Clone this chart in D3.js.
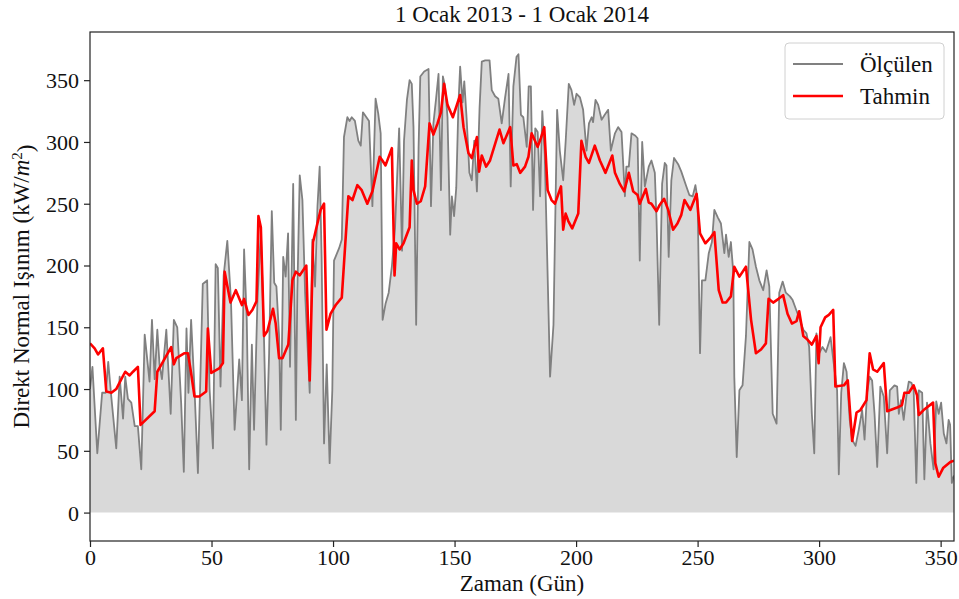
<html>
<script src="https://d3js.org/d3.v7.min.js"></script>
<style>
  body { margin: 0; background: #fff; }
  text { font-family: "Liberation Serif", "Times New Roman", serif; fill: #111; }
</style>
<body>
<svg id="plot" width="959" height="599"></svg>
<script>
// olculen (measured) and tahmin (predicted) : [gun, deger]
var olculen = [
  [0,100],[1,118],[3,48],[5,97],[6.5,97],[7.5,122],[8.7,95],[10.8,52],[12.2,110],[13.6,76],[14.5,110],[15.6,92],[17,89],[18.4,70],[19.7,70],[21.1,35],[22.5,144],[24.5,106],[25.5,156],[26.6,108],[27.7,148],[28.6,120],[29.6,108],[31.4,148],[33.2,80],[34.5,156],[35.9,150],[37.5,89],[38.6,33],[39.7,149],[40.5,97],[41.6,156],[43,100],[44.4,32],[46.4,185],[48.2,188],[49.2,100],[50.6,52],[51.7,201],[52.6,198],[53.7,102],[55,192],[56.5,220],[58,172],[59.5,67],
  [61.4,124],[62.5,91],[63.4,213],[64.5,156],[65.5,35],[66.6,136],[67.5,67],[68.9,172],[70.3,229],[71.6,140],[72.6,55],[73.7,129],[74.8,244],[75.8,186],[76.7,183],[77.8,143],[78.5,67],[79.5,207],[80.5,191],[81.5,226],[82.3,118],[83.6,266],[84.7,75],[85.3,178],[86.3,273],[87.4,253],[88.5,178],[90.4,97],[91.5,221],[92.6,183],[93.6,248],[94.5,280],[95.3,207],[96.3,56],[97.4,120],[98.6,40],[99.7,99],[100.4,204],[102.5,214],[103.6,221],[104.5,304],[105.9,320],[106.8,317],[107.7,320],[109,317],[110.4,301],[111.4,297],[112.3,324],[114.8,317],[116.2,248],[117.5,335],[118.6,323],[119.6,307],[120.4,156],
  [121.6,169],[122.9,178],[124.2,199],[125.5,230],[127.2,311],[128.4,212],[129.2,301],[130.4,334],[131.5,350],[132.4,347],[133.1,312],[134.2,152],[135.2,296],[135.9,353],[137.5,357],[139.3,359],[140.3,248],[141.3,315],[142.4,335],[143.4,355],[144.4,261],[145.2,353],[146.1,345],[147.1,320],[148.2,225],[148.9,256],[149.8,240],[150.7,263],[151.6,331],[152.3,361],[153.3,332],[154,349],[155,318],[156.1,275],[157.1,269],[158.1,301],[159.2,260],[160.3,328],[161.2,365],[162.6,366],[164.4,366],[165.3,342],[166.7,337],[168,335],[169.4,315],[170.8,336],[172.2,355],[173.1,264],[174.2,345],[175.5,369],[176.3,371],[177.3,322],[178.3,320],[179.7,296],[180.5,345],[181.4,345],
  [182.3,245],[183.2,311],[184.2,308],[185.2,256],[186.1,325],[187.1,290],[189.3,110],[190.7,152],[192.2,326],[193.3,293],[194.7,269],[195.7,300],[197,347],[198.1,342],[199.2,330],[200.2,339],[201.6,336],[202.9,326],[204.3,293],[205.3,315],[206.4,320],[207,316],[208,334],[209.1,330],[210.5,318],[211.8,322],[213.2,326],[214.3,293],[216,307],[217.3,312],[218.7,308],[220.1,256],[220.7,280],[221.7,280],[222.8,307],[224.4,305],[225.3,303],[226.2,204],[227.2,300],[228.3,264],[229.9,280],[231,285],[232.4,275],[233.1,237],[234.2,152],[235.4,266],[236.5,283],[237.2,281],[238.1,207],[239.2,269],[240.3,287],[242,282],
  [243.3,276],[245.2,265],[246.6,257],[248,256],[249.1,265],[250,253],[251,129],[251.8,188],[253.2,188],[254.6,210],[255.9,219],[256.9,245],[258.3,239],[259.6,234],[261,210],[261.7,225],[262.8,207],[263.7,219],[264.7,194],[265.1,110],[266.1,45],[267.2,99],[268.5,103],[269.9,143],[271.3,219],[272.6,213],[274,199],[275.4,188],[277,180],[278.4,196],[279.5,183],[280.9,80],[282.5,72],[283.6,178],[285,187],[286.3,178],[288,175],[289.1,172],[290.4,165],[292.1,156],[293.5,148],[294.8,145],[295.9,134],[297,80],[298,48],[298.9,145],[300,129],[301.4,134],[302.8,130],
  [304.7,142],[306,121],[307.4,99],[308.1,31],[309.1,97],[310.2,121],[311.3,114],[312.6,75],[313.6,59],[315,54],[316.3,67],[317.7,83],[318.7,59],[319.7,97],[320.8,110],[321.8,107],[322.8,80],[323.9,37],[325.2,102],[326.6,94],[328,48],[329.1,99],[331,103],[332.1,102],[332.8,80],[333.7,91],[334.8,75],[335.9,94],[336.9,106],[338,105],[338.9,99],[340,24],[341,99],[342.4,97],[343.3,27],[344.4,89],[345.8,56],[347.1,35],[348.2,90],[349.2,80],[350.2,89],[351.3,64],[352.4,56],[353.3,75],[353.9,71],[354.6,24],[355.5,30]
];

var tahmin = [
  [0,137],[1.9,133],[3.3,128],[5.3,133],[6.7,98],[8.8,97],[10.8,100],[12.9,108],[14.5,114],[16.3,111],[17.7,114],[19.7,118],[20.8,71],[26.6,82],[27.7,114],[30,122],[33.4,134],[34.5,120],[35.5,125],[38.9,129],[40.3,129],[41.6,113],[43,94],[45,94],[47.8,98],[48.5,149],[49.9,113],[53.3,117],[54.7,121],[55.4,195],[57.8,170],[60,180],
  [62.5,168],[63.4,173],[65.2,160],[66.8,164],[68.5,171],[69.3,240],[70.3,231],[71.6,143],[73,147],[75.3,165],[76.4,153],[77.8,125],[79.2,125],[81.6,136],[83.3,188],[84.7,195],[86.3,192],[89,200],[90.4,107],[91.8,219],[93.2,231],[94.9,245],[96.3,250],[97.3,148],[99,161],[101.1,168],[103.6,174],[106.3,256],[108,253],[110,265],[111.8,261],[114.1,250],[116.2,260],[117.5,272],[119.2,288],[120.3,285],
  [121.6,281],[124.2,295],[125.3,192],[126,218],[127.4,213],[129,218],[131.5,231],[132.4,285],[133.1,261],[134.5,250],[136.1,252],[137.9,264],[139.7,315],[141.3,306],[143,315],[144.4,324],[145.7,347],[147.1,330],[149.3,320],[152.3,338],[153.7,312],[155.7,291],[157.1,287],[159.2,304],[160.1,276],[161.2,289],[163,280],[164.6,285],[167.1,301],[168.5,310],[170.1,299],[172.9,312],[174.2,281],[175.6,282],[177,275],[179,280],[180.4,288],[181.7,307],
  [184.2,296],[185.5,303],[186.9,312],[188.3,261],[189.9,253],[191.3,250],[193.8,264],[194.7,229],[195.7,242],[196.8,236],[198.4,230],[200.9,242],[202.2,301],[203.9,288],[205.3,283],[207.7,297],[209.8,285],[212.1,275],[214.9,289],[216,275],[218,266],[219.8,260],[221.7,275],[223.5,260],[225.3,257],[226.2,250],[228.7,262],[229.9,251],[231,250],[233.1,244],[234.4,249],[236.2,254],[237.9,245],[239.9,229],[241.7,234],[243.3,241],
  [244.6,253],[247,245],[249.6,258],[251,226],[253.2,218],[255.5,223],[256.9,227],[258.7,180],[260.3,170],[261.7,170],[263.7,175],[265.1,199],[267.2,191],[269.9,199],[272,156],[274,129],[276.1,132],[278.1,137],[279.2,173],[281.1,170],[283.3,173],[285.2,176],[287,161],[288.8,153],[290.7,155],[291.8,163],[293.5,143],[295.2,140],[297,136],[298.9,143],[299.8,121],[300.6,150],[302.5,158],[304,160],[305.8,164],[306.7,102],
  [310.2,103],[311.8,107],[313.6,58],[315.4,81],[317,83],[319.5,91],[320.8,129],[322.2,116],[323.9,114],[326.6,121],[328,82],[332.1,85],[334.1,87],[335.1,97],[336.9,97],[338.9,103],[340.3,95],[341,79],[343,83],[346.9,89],[347.8,40],[349.2,29],[351,36],[354,41],[355.5,42]
];

var xTicks = [0, 50, 100, 150, 200, 250, 300, 350];
var yTicks = [0, 50, 100, 150, 200, 250, 300, 350];
var seriesNames = ["Ölçülen", "Tahmin"];
var seriesColors = ["#808080", "#ff0000"];

var svg = d3.select("#plot");
var pL = 90, pR = 954, pT = 32, pB = 541;

var x = d3.scaleLinear().domain([0, 355.5]).range([pL, pR]);
var y = d3.scaleLinear().domain([-23, 389]).range([pB, pT]);

svg.append("clipPath").attr("id", "clip")
  .append("rect").attr("x", pL).attr("y", pT).attr("width", pR - pL).attr("height", pB - pT);

var g = svg.append("g").attr("clip-path", "url(#clip)");

g.append("path").datum(olculen)
  .attr("fill", "#d9d9d9")
  .attr("d", d3.area().x(function(d){ return x(d[0]); }).y0(y(0)).y1(function(d){ return y(d[1]); }));

g.append("path").datum(olculen)
  .attr("fill", "none").attr("stroke", seriesColors[0]).attr("stroke-width", 1.8).attr("stroke-linejoin", "round")
  .attr("d", d3.line().x(function(d){ return x(d[0]); }).y(function(d){ return y(d[1]); }));

g.append("path").datum(tahmin)
  .attr("fill", "none").attr("stroke", seriesColors[1]).attr("stroke-width", 2.6).attr("stroke-linejoin", "round")
  .attr("d", d3.line().x(function(d){ return x(d[0]); }).y(function(d){ return y(d[1]); }));

// axes
var xAxis = svg.append("g").attr("transform", "translate(0," + pB + ")")
  .call(d3.axisBottom(x).tickValues(xTicks).tickSize(6).tickPadding(2).tickSizeOuter(0));
var yAxis = svg.append("g").attr("transform", "translate(" + pL + ",0)")
  .call(d3.axisLeft(y).tickValues(yTicks).tickSize(6).tickPadding(5).tickSizeOuter(0));
[xAxis, yAxis].forEach(function(a){
  a.select(".domain").remove();
  a.selectAll("line").attr("stroke", "#222").attr("stroke-width", 1.2);
  a.selectAll("text").style("font-family", "Liberation Serif").style("font-size", "22px").attr("fill", "#111");
});
yAxis.selectAll("text").attr("dy", "0.34em");

svg.append("rect").attr("x", pL).attr("y", pT).attr("width", pR - pL).attr("height", pB - pT)
  .attr("fill", "none").attr("stroke", "#222").attr("stroke-width", 1.2);

// labels
svg.append("text").attr("x", (pL + pR) / 2).attr("y", 22).attr("text-anchor", "middle")
  .style("font-size", "23px").text("1 Ocak 2013 - 1 Ocak 2014");

svg.append("text").attr("x", (pL + pR) / 2).attr("y", 591).attr("text-anchor", "middle")
  .style("font-size", "23px").text("Zaman (Gün)");

var yl = svg.append("text").attr("text-anchor", "middle")
  .attr("transform", "translate(29," + ((pT + pB) / 2) + ") rotate(-90)")
  .style("font-size", "23px");
yl.append("tspan").text("Direkt Normal Işınım (kW/");
yl.append("tspan").style("font-style", "italic").text("m");
yl.append("tspan").attr("dy", "-0.45em").style("font-size", "15px").text("2");
yl.append("tspan").attr("dy", "0.45em").text(")");

// legend
var lg = svg.append("g");
lg.append("rect").attr("x", 785).attr("y", 43).attr("width", 159).attr("height", 76).attr("rx", 4)
  .attr("fill", "#fff").attr("fill-opacity", 0.85).attr("stroke", "#d0d0d0").attr("stroke-width", 1);
seriesNames.forEach(function(n, i){
  var yy = 64 + i * 32;
  lg.append("line").attr("x1", 793).attr("x2", 843).attr("y1", yy).attr("y2", yy)
    .attr("stroke", seriesColors[i]).attr("stroke-width", i == 0 ? 1.8 : 2.6);
  lg.append("text").attr("x", 860).attr("y", yy + 8).style("font-size", "23px").text(n);
});
</script>
</body>
</html>
